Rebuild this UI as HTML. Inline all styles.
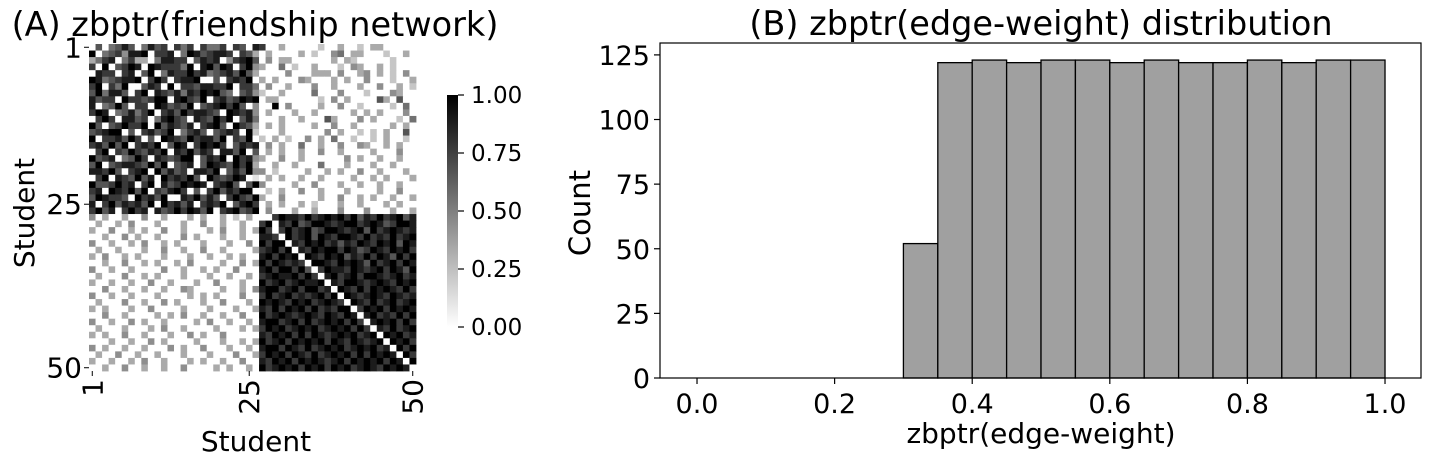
<!DOCTYPE html>
<html><head><meta charset="utf-8"><style>
body{margin:0;background:#fff;}
svg text{font-family:"DejaVu Sans","Liberation Sans",sans-serif;fill:#000;}
</style></head><body>
<svg id="fig" width="1430" height="467" viewBox="0 0 1430 467" xmlns="http://www.w3.org/2000/svg">
<defs><linearGradient id="cbg" x1="0" y1="1" x2="0" y2="0"><stop offset="0" stop-color="#fff"/><stop offset="1" stop-color="#000"/></linearGradient></defs>
<g id="heat"></g>
<g id="hist"></g>
</svg>
<script>
// Heatmap data: each digit d -> value d/9 (gray_r colormap)
const heatRows = [
"06056860586707570755707608700300000200300203300000",
"90567488907780598678870763030000302004503300020030",
"35780573305887706878047896040330000003032000002000",
"70906798098777590896980794300502003000204300302000",
"08770780690587797856786963000040003330400340302040",
"98567889079707889006078790303000430003030040002003",
"79075900687090776887790775040030004003000300400302",
"69588607908768587989650674200300005000400020004300",
"86770977679908976907867989033000000204030000630600",
"80569607709867690678979604009040000300400200002050",
"79805685790786978876098784030003003000003030300040",
"07970886705897608769790685000300300063000403000205",
"96067977909687680789609763030300003004003000003030",
"67899060786790578606787092000300000040300202030060",
"90778697060987697886907690203020040305002002030020",
"78696907879069807989706878040300500300400430030300",
"07907697687908796870886906030300300400300003000400",
"96780569708767990687909784300400300000040300300300",
"69067887696906780698769793003003000500030003003000",
"88796078909686708879068694402000030030300400300030",
"07908769680978796097679801030300300300003003030003",
"96679780790867989807896069400003004000300300300300",
"78098796907689706079687990020300400300030000300400",
"69877609786900879686079769300400000300400303003003",
"80796878690978680787906897030300302000300300030300",
"79680797808679798690789679040003003000400040003003",
"40300300400300030300302030007988797898979687978968",
"03003040003000300400300300790879679987899789867998",
"30040030300400300030400303970797896799878969789878",
"00300403003000403000300300887097896987998797879789",
"40030030400303000300030040979908798978687987989698",
"03003000300400300400300003789790879899798679879897",
"30400303000300030030030300897989098798968797986979",
"00300400303003040000300403979878709987989869789798",
"40030030000400300303004000897997960798879878979869",
"03000400303000300030030030789889797089789799878978",
"30030030040030003004000300978978988908799878987989",
"00400300300300430000300304899789799780987979898797",
"40030030003000030303000400797897878979098789879878",
"03000400300403000300400030989879897898709879789789",
"30300030040000300030003003879798979787990798979898",
"00400300003030400300300400978987898798798089787979",
"40030040300300003040030030899789797898979708989797",
"03000300030400300003000303798978989789897970879789",
"30300400300030040300400000879897979878989789098978",
"00030030040300003000300303978979898979879878909897",
"40300300300040300400030030899798797898978989780979",
"03004003003000300030004003798979879789897979898097",
"30030030400300030300300400879897989878979898979809",
"00300400300300400003030030978989798979897898798980"
];
const heatTicks = ["1","25","50"];
const heatTickIdx = [0,24,49];
const cbTicks = [0,0.25,0.5,0.75,1];

// Histogram data
const binStarts = [0.0,0.05,0.1,0.15,0.2,0.25,0.3,0.35,0.4,0.45,0.5,0.55,0.6,0.65,0.7,0.75,0.8,0.85,0.9,0.95];
const counts = [0,0,0,0,0,0,52,122,123,122,123,123,122,123,122,122,123,122,123,123];
const xTicks = [0.0,0.2,0.4,0.6,0.8,1.0];
const yTicks = [0,25,50,75,100,125];

const NS="http://www.w3.org/2000/svg";
function mk(tag,attrs,parent){const e=document.createElementNS(NS,tag);for(const k in attrs)e.setAttribute(k,attrs[k]);parent.appendChild(e);return e;}

// ---- Heatmap ----
const heat=document.getElementById('heat');
const H0x=89,H0y=44,HS=327,n=heatRows.length,cs=HS/n;
const hx=i=>H0x+i*cs, hy=i=>H0y+i*cs;
heatRows.forEach((row,r)=>{
  for(let c=0;c<row.length;c++){
    const v=parseInt(row[c])/9;const g=Math.round(255*(1-v));
    const rc=mk('rect',{x:hx(c),y:hy(r),width:cs+0.4,height:cs+0.4,fill:`rgb(${g},${g},${g})`},heat);
    
    
  }
});
heatTicks.forEach((t,k)=>{
  const p=heatTickIdx[k]+0.5;
  const yy=hy(p);
  mk('line',{x1:H0x-5,x2:H0x,y1:yy,y2:yy,stroke:'#000','stroke-width':1},heat);
  const ty=mk('text',{x:H0x-7,y:yy+10,'font-size':28,'text-anchor':'end'},heat);ty.textContent=t;
  
  
  const xx=hx(p);
  mk('line',{x1:xx,x2:xx,y1:H0y+HS,y2:H0y+HS+5,stroke:'#000','stroke-width':1},heat);
  const tx=mk('text',{x:0,y:0,'font-size':28,'text-anchor':'end',transform:`translate(${xx+10},${H0y+HS+8}) rotate(-90)`},heat);tx.textContent=t;
  
  
});
let t1=mk('text',{x:255,y:36,'font-size':33.5,'text-anchor':'middle'},heat);t1.textContent='(A) zbptr(friendship network)';

let t2=mk('text',{x:256,y:451,'font-size':28,'text-anchor':'middle'},heat);t2.textContent='Student';

let t3=mk('text',{x:0,y:0,'font-size':28,'text-anchor':'middle',transform:'translate(34,213) rotate(-90)'},heat);t3.textContent='Student';

// colorbar
const CBx=447,CBy=95,CBw=11,CBh=232;
let cb=mk('rect',{x:CBx,y:CBy,width:CBw,height:CBh,fill:'url(#cbg)'},heat);

cbTicks.forEach(v=>{
  const yy=CBy+CBh*(1-v);
  mk('line',{x1:CBx+CBw,x2:CBx+CBw+6,y1:yy,y2:yy,stroke:'#000','stroke-width':1.2},heat);
  const tt=mk('text',{x:CBx+CBw+13,y:yy+8,'font-size':23},heat);tt.textContent=v.toFixed(2);
  
});

// ---- Histogram ----
const hist=document.getElementById('hist');
const AX=660,AY=43,AW=761,AH=335;
const xmin=-0.0538,xmax=1.0523,ymax=129.6;
const sx=v=>AX+(v-xmin)/(xmax-xmin)*AW, sy=v=>AY+AH-v/ymax*AH;
binStarts.forEach((b,i)=>{
  const x0=sx(b),x1=sx(b+0.05),y=sy(counts[i]);
  const r=mk('rect',{x:x0,y:y,width:x1-x0,height:sy(0)-y,fill:'#a0a0a0',stroke:'#000','stroke-width':1.3},hist);
  
});
mk('rect',{x:AX,y:AY,width:AW,height:AH,fill:'none',stroke:'#000','stroke-width':1.2},hist);
xTicks.forEach(v=>{
  const xx=sx(v);
  mk('line',{x1:xx,x2:xx,y1:AY+AH,y2:AY+AH+6,stroke:'#000','stroke-width':1.2},hist);
  const t=mk('text',{x:xx,y:AY+AH+35,'font-size':27,'text-anchor':'middle'},hist);t.textContent=v.toFixed(1);
  
});
yTicks.forEach(v=>{
  const yy=sy(v);
  mk('line',{x1:AX-6,x2:AX,y1:yy,y2:yy,stroke:'#000','stroke-width':1.2},hist);
  const t=mk('text',{x:AX-10,y:yy+10,'font-size':27,'text-anchor':'end'},hist);t.textContent=v;
  
});
let h1=mk('text',{x:1041,y:35,'font-size':33.5,'text-anchor':'middle'},hist);h1.textContent='(B) zbptr(edge-weight) distribution';

let h2=mk('text',{x:1041,y:443,'font-size':28,'text-anchor':'middle'},hist);h2.textContent='zbptr(edge-weight)';

let h3=mk('text',{x:0,y:0,'font-size':29,'text-anchor':'middle',transform:'translate(590,213) rotate(-90)'},hist);h3.textContent='Count';

</script>
</body></html>
